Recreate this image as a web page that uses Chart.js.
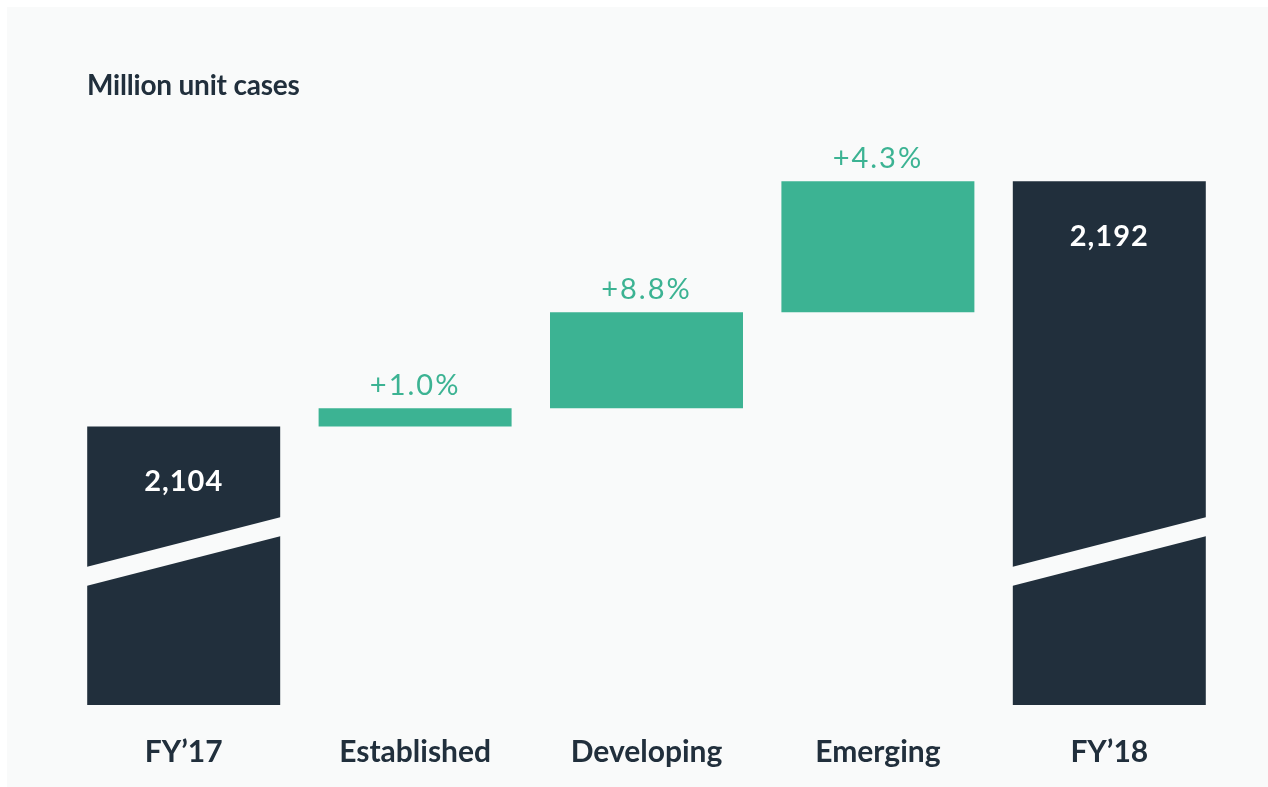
<!DOCTYPE html>
<html>
<head>
<meta charset="utf-8">
<script src="https://cdn.jsdelivr.net/npm/chart.js@4/dist/chart.umd.min.js"></script>
<style>
  html, body { margin: 0; padding: 0; background: #ffffff; }
  #wrap { width: 1268px; height: 787px; }
</style>
</head>
<body>
<div id="wrap"><canvas id="chart" width="1268" height="787"></canvas></div>
<script>
// Waterfall: FY'17 -> segments -> FY'18 (million unit cases, axis broken)
const categories = ['FY\u201917', 'Established', 'Developing', 'Emerging', 'FY\u201918'];
const barStart = [2004, 2104, 2110.5, 2145, 2004];
const barEnd = [2104, 2110.5, 2145, 2192, 2192];
const changeLabels = ['', '+1.0%', '+8.8%', '+4.3%', ''];
const isTotal = [true, false, false, false, true];

const DARK = '#212f3c';
const GREEN = '#3cb393';
const PANEL = '#f9fafa';
const FONT = 'Lato, "Open Sans", sans-serif';

// panel background, axis-break bands, value labels, title
const decorPlugin = {
  id: 'decor',
  beforeDraw(chart) {
    const ctx = chart.ctx;
    ctx.save();
    ctx.fillStyle = PANEL;
    ctx.fillRect(7, 7, chart.width - 7, chart.height - 7);
    ctx.restore();
  },
  afterDatasetsDraw(chart) {
    const ctx = chart.ctx;
    const meta = chart.getDatasetMeta(0);
    ctx.save();
    meta.data.forEach((bar, i) => {
      const left = bar.x - bar.width / 2;
      const right = bar.x + bar.width / 2;
      if (isTotal[i]) {
        // diagonal break band across the total bars
        const bottom = bar.base;
        ctx.fillStyle = PANEL;
        ctx.beginPath();
        ctx.moveTo(left - 1, bottom - 138);
        ctx.lineTo(right + 1, bottom - 188);
        ctx.lineTo(right + 1, bottom - 169);
        ctx.lineTo(left - 1, bottom - 119);
        ctx.closePath();
        ctx.fill();
        // total value inside bar
        ctx.fillStyle = '#ffffff';
        ctx.font = 'bold 29px ' + FONT;
        ctx.letterSpacing = '1px';
        ctx.textAlign = 'center';
        ctx.textBaseline = 'middle';
        ctx.fillText(barEnd[i].toLocaleString('en-US'), bar.x, bar.y + 55);
      } else {
        ctx.fillStyle = GREEN;
        ctx.font = '29px ' + FONT;
        ctx.letterSpacing = '2px';
        ctx.textAlign = 'center';
        ctx.textBaseline = 'alphabetic';
        ctx.fillText(changeLabels[i], bar.x, bar.y - 13);
      }
    });
    // title
    ctx.fillStyle = DARK;
    ctx.font = 'bold 28px ' + FONT;
    ctx.letterSpacing = '-0.2px';
    ctx.textAlign = 'left';
    ctx.textBaseline = 'alphabetic';
    ctx.fillText('Million unit cases', 87, 95);
    ctx.restore();
  }
};

new Chart(document.getElementById('chart'), {
  type: 'bar',
  data: {
    labels: categories,
    datasets: [{
      data: categories.map((c, i) => [barStart[i], barEnd[i]]),
      backgroundColor: isTotal.map(t => t ? DARK : GREEN),
      borderWidth: 0,
      borderSkipped: false,
      categoryPercentage: 1,
      barPercentage: 0.834,
    }]
  },
  options: {
    responsive: false,
    animation: false,
    layout: { padding: { top: 120, left: 68, right: 43, bottom: -12 } },
    plugins: {
      legend: { display: false },
      tooltip: { enabled: false },
    },
    scales: {
      x: {
        grid: { display: false, drawTicks: false },
        border: { display: false },
        ticks: { color: DARK, padding: 29, font: { family: FONT, size: 30, weight: 'bold' } }
      },
      y: { display: false, min: 2004, max: 2214 }
    }
  },
  plugins: [decorPlugin]
});
</script>
</body>
</html>
